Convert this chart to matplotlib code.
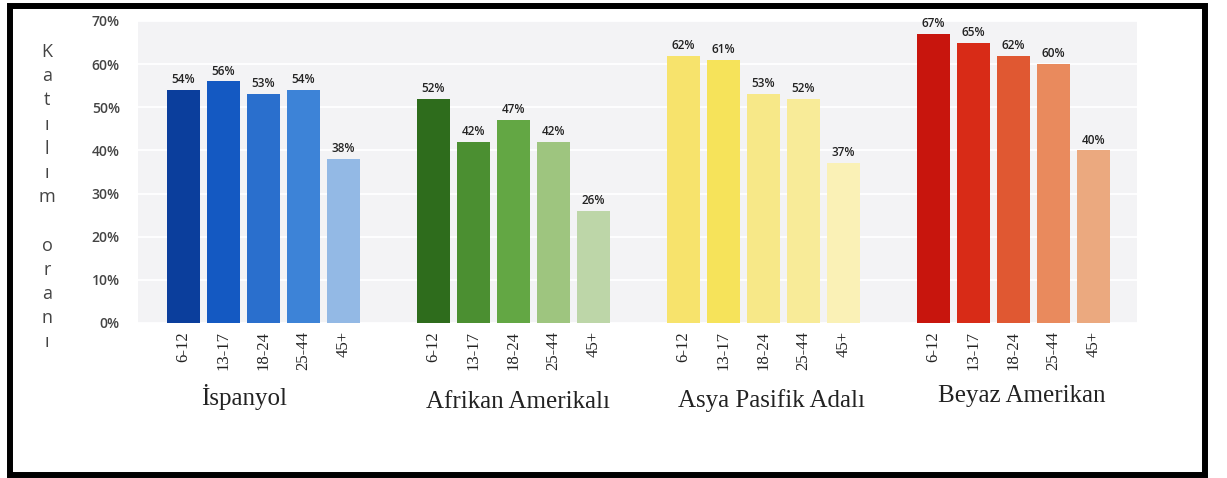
import matplotlib
matplotlib.use("Agg")
import matplotlib.pyplot as plt
from matplotlib.patches import Rectangle
from matplotlib.ticker import FuncFormatter
import matplotlib.transforms as mtransforms

# data
age_groups = ["6-12", "13-17", "18-24", "25-44", "45+"]
groups = ["İspanyol", "Afrikan Amerikalı", "Asya Pasifik Adalı", "Beyaz Amerikan"]
ispanyol = [54, 56, 53, 54, 38]
afrikan = [52, 42, 47, 42, 26]
asya = [62, 61, 53, 52, 37]
beyaz = [67, 65, 62, 60, 40]
ylabel = "Katılım oranı"

colors = [
    ["#0b3e9c", "#1459c2", "#2a6fcd", "#3d83d7", "#93b9e5"],  # blues
    ["#2e6c1c", "#4b8f31", "#63a744", "#9ec57f", "#bdd6a8"],  # greens
    ["#f7e36c", "#f6e35a", "#f7e888", "#f8eb98", "#faf1b6"],  # yellows
    ["#c8150d", "#d82b17", "#e05832", "#e98a5d", "#eba97f"],  # reds
]

W, H = 1227, 478
fig = plt.figure(figsize=(W / 100, H / 100), dpi=100)
fig.patch.set_facecolor("white")
ax = fig.add_axes([138 / W, (H - 323) / H, (1137 - 138) / W, (323 - 21) / H])
ax.set_facecolor("#f3f3f5")

group_step = 6.25
bar_w = 0.825
xs_all, labels_all = [], []
for g, vals in enumerate([ispanyol, afrikan, asya, beyaz]):
    xs = [g * group_step + i for i in range(len(vals))]
    ax.bar(xs, vals, width=bar_w, color=colors[g], zorder=3)
    for x, v in zip(xs, vals):
        ax.text(x, v + 0.9, f"{v}%", ha="center", va="bottom", fontsize=8.5,
                family="Open Sans", weight="semibold", color="#222222", zorder=4)
    xs_all += xs
    labels_all += age_groups

ax.set_xlim(-1.14, 23.84)
ax.set_ylim(0, 70)
ax.set_yticks(range(0, 71, 10))
ax.yaxis.set_major_formatter(FuncFormatter(lambda v, p: f"{int(v)}%"))
ax.set_xticks(xs_all)
ax.set_xticklabels(labels_all, rotation=90)
ax.tick_params(axis="x", length=0, pad=6, labelsize=12, labelcolor="#222222",
               labelfontfamily="Liberation Serif")
ax.tick_params(axis="y", length=0, pad=13, labelsize=10, labelcolor="#444444",
               labelfontfamily="Open Sans")
for lab in ax.get_yticklabels():
    lab.set_weight("semibold")
ax.grid(axis="y", color="white", linewidth=1.3, zorder=0)
ax.set_axisbelow(True)
for s in ax.spines.values():
    s.set_visible(False)

# group names under each block of bars
trans = mtransforms.blended_transform_factory(ax.transData, ax.transAxes)
shifts = [-0.5, 0.1, 0.2, 0.2]
ys = [-0.245, -0.262, -0.255, -0.242]
for g, name in enumerate(groups):
    ax.text(g * group_step + 2 + shifts[g], ys[g], name, transform=trans,
            ha="center", va="center", family="Liberation Serif",
            fontsize=18, color="#222222")

# vertical y label, one letter per line
for i, ch in enumerate(ylabel):
    fig.text(47 / W, 1 - (52 + i * 24.2) / H, ch, ha="center", va="center",
             family="Open Sans", fontsize=13, color="#444444")

# black frame
fig.patches.append(Rectangle((10 / W, 3 / H), (1205 - 10) / W, (472 - 3) / H,
                             transform=fig.transFigure, fill=False,
                             edgecolor="black", linewidth=4.3))

fig.savefig("out.png", dpi=100)
